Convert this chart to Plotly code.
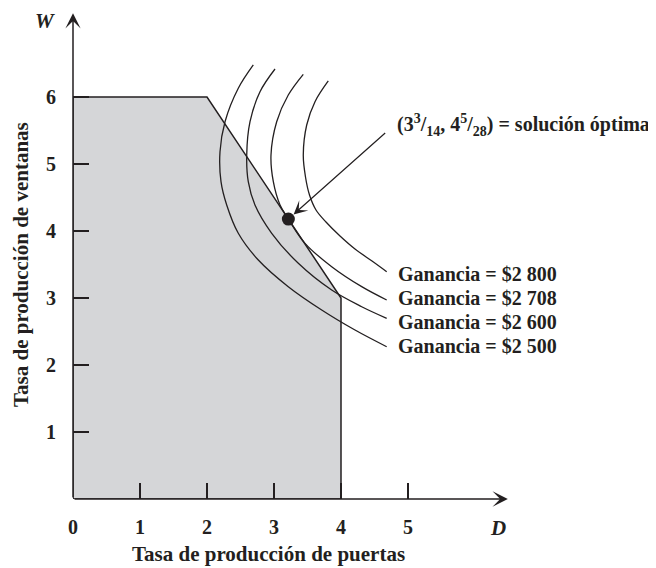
import plotly.graph_objects as go

# ---------------- data ----------------
region_D = [0, 0, 2, 4, 4, 0]
region_W = [0, 6, 6, 3, 0, 0]

x_tick_vals = [0, 1, 2, 3, 4, 5]
x_tick_text = ["0", "1", "2", "3", "4", "5"]
y_tick_vals = [1, 2, 3, 4, 5, 6]
y_tick_text = ["1", "2", "3", "4", "5", "6"]

profit_labels = ["Ganancia = $2 800", "Ganancia = $2 708",
                 "Ganancia = $2 600", "Ganancia = $2 500"]
profit_label_W = [3.358, 3.0, 2.642, 2.284]
profit_label_D = 4.82

curve_2800_D = [3.810, 3.612, 3.488, 3.437, 3.470, 3.530, 3.627, 3.776, 3.985, 4.209, 4.463, 4.682]
curve_2800_W = [6.239, 5.930, 5.582, 5.134, 4.806, 4.537, 4.313, 4.134, 3.925, 3.731, 3.552, 3.393]

curve_2708_D = [3.437, 3.213, 3.040, 2.955, 2.990, 3.090, 3.214, 3.463, 3.861, 4.309, 4.682]
curve_2708_W = [6.339, 6.030, 5.631, 5.134, 4.736, 4.388, 4.179, 3.816, 3.467, 3.169, 2.970]

curve_2600_D = [3.015, 2.791, 2.642, 2.593, 2.616, 2.716, 2.966, 3.363, 3.861, 4.309, 4.682]
curve_2600_W = [6.418, 6.079, 5.631, 5.134, 4.736, 4.388, 3.966, 3.518, 3.119, 2.870, 2.697]

curve_2500_D = [2.691, 2.467, 2.269, 2.194, 2.209, 2.294, 2.467, 2.766, 3.213, 3.712, 4.209, 4.682]
curve_2500_W = [6.478, 6.130, 5.631, 5.184, 4.736, 4.388, 3.966, 3.567, 3.169, 2.821, 2.522, 2.273]

opt_D = 3 + 3 / 14
opt_W = 4 + 5 / 28
opt_label = "(3<sup>3</sup>/<sub>14</sub>, 4<sup>5</sup>/<sub>28</sub>) = solución óptima"
opt_label_pos = (4.80, 5.58)
opt_arrow_tail = (4.682, 5.482)

x_axis_end = 6.49
y_axis_end = 7.25

# ---------------- style ----------------
INK = "#231f20"
FONT = "Liberation Serif"
GRAY = "#d5d6d8"

fig = go.Figure()

fig.add_trace(go.Scatter(
    x=region_D, y=region_W, mode="lines", fill="toself",
    fillcolor=GRAY, line=dict(color=INK, width=1.5),
    hoverinfo="skip", showlegend=False))

for cd, cw in [(curve_2800_D, curve_2800_W), (curve_2708_D, curve_2708_W),
               (curve_2600_D, curve_2600_W), (curve_2500_D, curve_2500_W)]:
    fig.add_trace(go.Scatter(
        x=cd, y=cw, mode="lines",
        line=dict(color=INK, width=1.3, shape="spline", smoothing=1.0),
        hoverinfo="skip", showlegend=False))

fig.add_trace(go.Scatter(
    x=[opt_D], y=[opt_W], mode="markers",
    marker=dict(color=INK, size=13),
    hoverinfo="skip", showlegend=False))

bold20 = dict(family=FONT, size=20, color=INK, weight="bold")
bold21 = dict(family=FONT, size=21, color=INK, weight="bold")

ann = []
# axes with arrowheads
ann.append(dict(x=x_axis_end, y=0, ax=0, ay=0, xref="x", yref="y",
                axref="x", ayref="y", showarrow=True, arrowhead=3,
                arrowsize=1.7, arrowwidth=1.5, arrowcolor=INK, text=""))
ann.append(dict(x=0, y=y_axis_end, ax=0, ay=0, xref="x", yref="y",
                axref="x", ayref="y", showarrow=True, arrowhead=3,
                arrowsize=1.7, arrowwidth=1.5, arrowcolor=INK, text=""))
# arrow to optimum
ann.append(dict(x=opt_D, y=opt_W, ax=opt_arrow_tail[0], ay=opt_arrow_tail[1],
                xref="x", yref="y", axref="x", ayref="y", showarrow=True,
                arrowhead=3, arrowsize=1.9, arrowwidth=1.2, arrowcolor=INK,
                standoff=7, text=""))
ann.append(dict(x=opt_label_pos[0], y=opt_label_pos[1], xref="x", yref="y",
                text=opt_label, showarrow=False, xanchor="left", yanchor="middle",
                font=bold20))
for lbl, w in zip(profit_labels, profit_label_W):
    ann.append(dict(x=profit_label_D, y=w, xref="x", yref="y", text=lbl,
                    showarrow=False, xanchor="left", yanchor="middle",
                    font=bold20))
# axis letters (paper coordinates, outside the data range)
ann.append(dict(x=-0.048, y=0.9735, xref="paper", yref="paper", text="<i>W</i>",
                showarrow=False, xanchor="center", yanchor="middle", font=bold21))
ann.append(dict(x=0.729, y=-0.0591, xref="paper", yref="paper", text="<i>D</i>",
                showarrow=False, xanchor="center", yanchor="middle", font=bold21))
# axis titles
ann.append(dict(x=0.3345, y=-0.113, xref="paper", yref="paper",
                text="Tasa de producción de puertas",
                showarrow=False, xanchor="center", yanchor="middle", font=bold21))
ann.append(dict(x=-0.0892, y=0.4786, xref="paper", yref="paper",
                text="Tasa de producción de ventanas", textangle=-90,
                showarrow=False, xanchor="center", yanchor="middle", font=bold21))

fig.update_layout(
    template="none",
    width=648, height=560,
    margin=dict(l=65, r=0, t=0, b=69, pad=0),
    paper_bgcolor="white", plot_bgcolor="white",
    showlegend=False,
    annotations=ann,
    xaxis=dict(range=[0, 583 / 67], showgrid=False, zeroline=False,
               showline=False, automargin=False,
               tickmode="array", tickvals=x_tick_vals, ticktext=x_tick_text,
               ticks="inside", ticklen=16, tickwidth=1.5, tickcolor=INK,
               ticklabelstandoff=14, tickfont=bold20),
    yaxis=dict(range=[0, 491 / 67], showgrid=False, zeroline=False,
               showline=False, automargin=False,
               tickmode="array", tickvals=y_tick_vals, ticktext=y_tick_text,
               ticks="inside", ticklen=16, tickwidth=1.5, tickcolor=INK,
               ticklabelstandoff=16, tickfont=bold20),
)

fig.write_html("out.html")
